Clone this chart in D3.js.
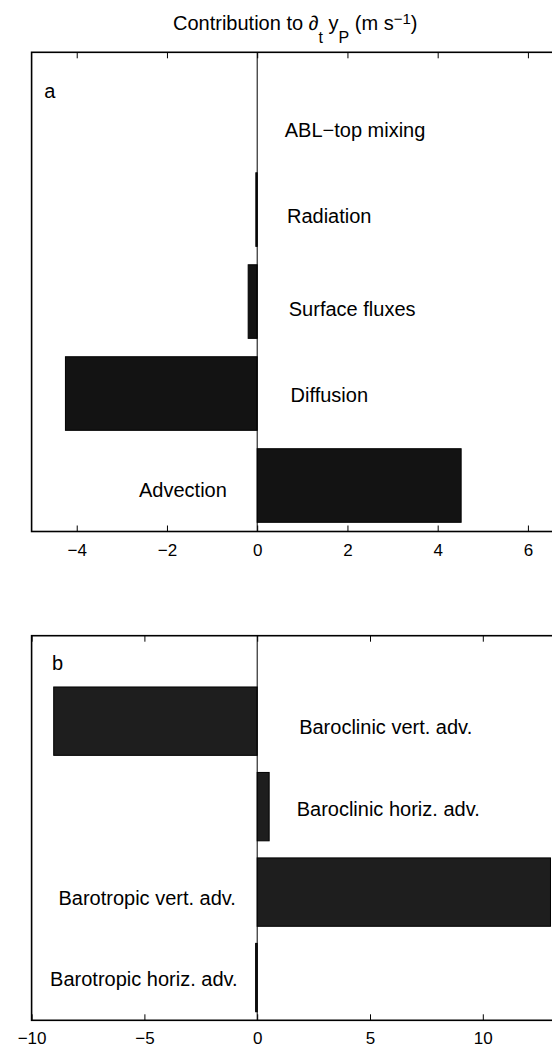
<!DOCTYPE html>
<html>
<head>
<meta charset="utf-8">
<script src="https://cdn.jsdelivr.net/npm/d3@7"></script>
<style>
body { margin: 0; background: #fff; }
text { font-family: "Liberation Sans", Arial, Helvetica, sans-serif; fill: #000; }
</style>
</head>
<body>
<div id="chart-area"></div>
<script>

// panel a: terms of the budget
let catsA = ["Advection", "Diffusion", "Surface fluxes", "Radiation", "ABL\u2212top mixing"];
let valsA = [4.52, -4.25, -0.2, -0.03, 0];
let ticksA = [-4, -2, 0, 2, 4, 6];
// label anchors in data units (x value, category position)
let labXA = [-2.62, 0.74, 0.70, 0.66, 0.61];
let labYA = [0.95, 1.98, 2.92, 3.93, 4.86];

// panel b: split of the advection term
let catsB = ["Barotropic horiz. adv.", "Barotropic vert. adv.", "Baroclinic horiz. adv.", "Baroclinic vert. adv."];
let valsB = [-0.07, 13.0, 0.53, -9.02];
let ticksB = [-10, -5, 0, 5, 10];
let labXB = [-9.18, -8.81, 1.75, 1.86];
let labYB = [0.985, 1.93, 2.97, 3.93];

let width = 552,
	height = 1048,
	axLeft = 31.6,
	axRight = 595.6;

let svg = d3.select("#chart-area").append("svg")
	.attr("width", width)
	.attr("height", height);

// title with sub/superscripts
let title = svg.append("text")
	.attr("x", 173)
	.attr("y", 30)
	.attr("font-size", 20);
title.append("tspan").text("Contribution to \u2202");
title.append("tspan").attr("dy", 13).attr("font-size", 16).text("t");
title.append("tspan").attr("dy", -13).text(" y");
title.append("tspan").attr("dy", 13).attr("font-size", 16).text("P");
title.append("tspan").attr("dy", -13).text(" (m s");
title.append("tspan").attr("dy", -6).attr("font-size", 15).text("\u22121");
title.append("tspan").attr("dy", 6).text(")");

drawPanel({
	cats: catsA, vals: valsA, ticks: ticksA, labX: labXA, labY: labYA,
	xDomain: [-5, 7.5], yDomain: [0.5, 5.71],
	top: 52.3, bottom: 531.5,
	fill: "#131313",
	letter: "a", letterPos: [-4.72, 5.285]
});

drawPanel({
	cats: catsB, vals: valsB, ticks: ticksB, labX: labXB, labY: labYB,
	xDomain: [-10, 15], yDomain: [0.5, 5],
	top: 635.7, bottom: 1020.3,
	fill: "#1e1e1e",
	letter: "b", letterPos: [-9.1, 4.68]
});

function drawPanel(p) {
	let x = d3.scaleLinear().domain(p.xDomain).range([axLeft, axRight]);
	let y = d3.scaleLinear().domain(p.yDomain).range([p.bottom, p.top]);

	let g = svg.append("g");

	// bars
	g.selectAll(".bar")
		.data(p.vals)
		.enter()
		.append("rect")
		.attr("class", "bar")
		.attr("x", d => x(Math.min(0, d)))
		.attr("width", d => Math.abs(x(d) - x(0)))
		.attr("y", (d, i) => y(i + 1 + 0.4))
		.attr("height", (d, i) => y(i + 1 - 0.4) - y(i + 1 + 0.4))
		.attr("fill", p.fill)
		.attr("stroke", "#000")
		.attr("stroke-width", 1);

	// baseline at zero
	g.append("line")
		.attr("x1", x(0)).attr("x2", x(0))
		.attr("y1", p.top).attr("y2", p.bottom)
		.attr("stroke", "#000")
		.attr("stroke-width", 1);

	// bar labels
	g.selectAll(".lab")
		.data(p.cats)
		.enter()
		.append("text")
		.attr("class", "lab")
		.attr("x", (d, i) => x(p.labX[i]))
		.attr("y", (d, i) => y(p.labY[i]))
		.attr("dy", "0.35em")
		.attr("font-size", 20)
		.text(d => d);

	// panel letter
	g.append("text")
		.attr("x", x(p.letterPos[0]))
		.attr("y", y(p.letterPos[1]))
		.attr("dy", "0.35em")
		.attr("font-size", 20)
		.text(p.letter);

	// axes, ticks pointing inward
	let xAxis = d3.axisBottom(x)
		.tickValues(p.ticks)
		.tickSize(-6)
		.tickPadding(12)
		.tickFormat(d3.format("d"));
	let bx = g.append("g")
		.attr("transform", "translate(0," + p.bottom + ")")
		.call(xAxis);
	bx.select(".domain").remove();
	bx.selectAll("text")
		.attr("font-size", 17)
		.attr("font-family", "Liberation Sans, Arial, sans-serif");
	bx.selectAll("line").attr("stroke", "#000");

	let tx = g.append("g")
		.attr("transform", "translate(0," + p.top + ")")
		.call(d3.axisTop(x).tickValues(p.ticks).tickSize(-6).tickFormat(""));
	tx.select(".domain").remove();
	tx.selectAll("line").attr("stroke", "#000");

	// box (right side runs off the picture)
	g.append("rect")
		.attr("x", axLeft)
		.attr("y", p.top)
		.attr("width", axRight - axLeft)
		.attr("height", p.bottom - p.top)
		.attr("fill", "none")
		.attr("stroke", "#000")
		.attr("stroke-width", 1.6);
}

</script>
</body>
</html>
